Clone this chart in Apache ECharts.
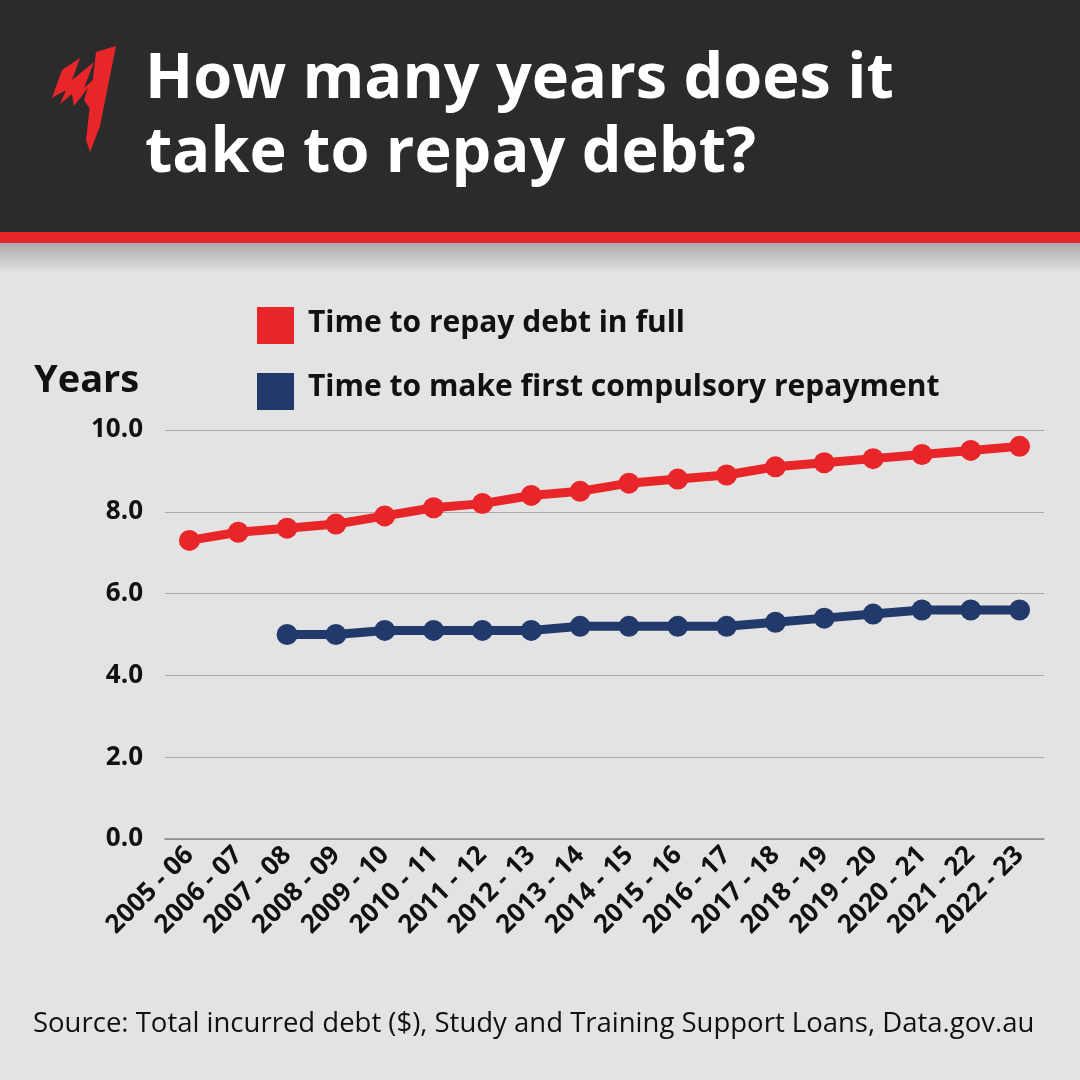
<!DOCTYPE html>
<html><head><meta charset="utf-8">
<script src="https://cdn.jsdelivr.net/npm/echarts@6/dist/echarts.min.js"></script>
<style>html,body{margin:0;padding:0;background:#e3e3e3}#c{width:1080px;height:1080px}</style>
</head><body><div id="c"></div>
<script>
const categories=['2005 - 06','2006 - 07','2007 - 08','2008 - 09','2009 - 10','2010 - 11','2011 - 12','2012 - 13','2013 - 14','2014 - 15','2015 - 16','2016 - 17','2017 - 18','2018 - 19','2019 - 20','2020 - 21','2021 - 22','2022 - 23'];
const repayFull=[7.3,7.5,7.6,7.7,7.9,8.1,8.2,8.4,8.5,8.7,8.8,8.9,9.1,9.2,9.3,9.4,9.5,9.6];
const firstRepay=[null,null,5.0,5.0,5.1,5.1,5.1,5.1,5.2,5.2,5.2,5.2,5.3,5.4,5.5,5.6,5.6,5.6];
const chart=echarts.init(document.getElementById('c'));
const F='"Open Sans", sans-serif';
chart.setOption({
backgroundColor:'#e3e3e3',
animation:false,
graphic:[
 {type:'rect',shape:{x:0,y:243,width:1080,height:30},style:{fill:new echarts.graphic.LinearGradient(0,0,0,1,[{offset:0,color:'rgba(0,0,0,0.25)'},{offset:1,color:'rgba(0,0,0,0)'}])}},
 {type:'rect',shape:{x:0,y:0,width:1080,height:234},style:{fill:'#2b2b2b'}},
 {type:'rect',shape:{x:0,y:232,width:1080,height:11},style:{fill:'#e8262a'}},
 {type:'polygon',shape:{points:[[62,70],[80,58],[72,80],[94,62],[84,88],[104,70],[92,112],[84,100],[88,88],[74,106],[72,94],[60,104],[66,90],[52,98]]},style:{fill:'#e8262a'}},
 {type:'polygon',shape:{points:[[96,52],[116,46],[100,126],[90,152],[86,140]]},style:{fill:'#e8262a'}},
 {type:'text',left:145,top:43,style:{text:'How many years does it\ntake to repay debt?',fill:'#fff',font:'bold 63px '+F,lineHeight:74}},
 {type:'rect',shape:{x:257,y:307,width:37,height:37},style:{fill:'#e8262a'}},
 {type:'text',left:308,top:308,style:{text:'Time to repay debt in full',fill:'#111',font:'bold 30px '+F}},
 {type:'rect',shape:{x:257,y:373,width:37,height:37},style:{fill:'#223a6b'}},
 {type:'text',left:308,top:372,style:{text:'Time to make first compulsory repayment',fill:'#111',font:'bold 30px '+F}},
 {type:'text',left:34,top:362,style:{text:'Years',fill:'#111',font:'bold 38px '+F}},
 {type:'text',left:33,top:1010,style:{text:'Source: Total incurred debt ($), Study and Training Support Loans, Data.gov.au',fill:'#111',font:'27.5px '+F}}
],
grid:{left:165,right:36,top:430,bottom:241,containLabel:false},
xAxis:{type:'category',data:categories,boundaryGap:true,
 axisLine:{lineStyle:{color:'#888',width:1.5}},axisTick:{show:false},
 axisLabel:{rotate:45,interval:0,color:'#111',fontSize:26,fontWeight:'bold',fontFamily:F,margin:12}},
yAxis:{type:'value',min:0,max:10,interval:2,
 axisLabel:{formatter:v=>v.toFixed(1),color:'#111',fontSize:26,fontWeight:'bold',fontFamily:F,margin:22},
 splitLine:{lineStyle:{color:'#aaa',width:1}},axisLine:{show:false},axisTick:{show:false}},
series:[
 {type:'line',data:repayFull,symbol:'circle',symbolSize:21,lineStyle:{color:'#e8262a',width:9},itemStyle:{color:'#e8262a'}},
 {type:'line',data:firstRepay,symbol:'circle',symbolSize:21,lineStyle:{color:'#223a6b',width:9},itemStyle:{color:'#223a6b'}}
]});
</script></body></html>
